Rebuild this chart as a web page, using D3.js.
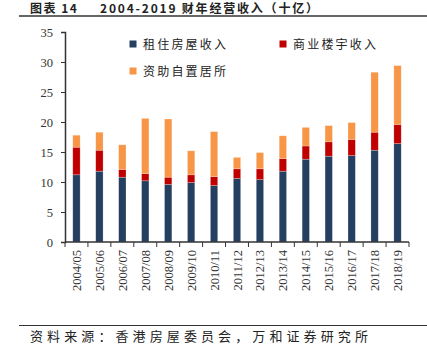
<!DOCTYPE html>
<html><head><meta charset="utf-8">
<script src="https://cdn.jsdelivr.net/npm/d3@7"></script>
<style>body{margin:0;background:#fff}svg{display:block}</style>
</head><body>
<script>
const categories = ["2004/05","2005/06","2006/07","2007/08","2008/09","2009/10","2010/11","2011/12","2012/13","2013/14","2014/15","2015/16","2016/17","2017/18","2018/19"];
const rental = [11.2,11.8,10.8,10.2,9.6,9.9,9.4,10.6,10.4,11.8,13.8,14.3,14.4,15.3,16.4];
const commercial = [4.6,3.5,1.3,1.2,1.2,1.3,1.5,1.6,1.8,2.1,2.2,2.4,2.7,3.0,3.2];
const homeOwnership = [2.0,3.0,4.1,9.2,9.7,4.0,7.5,1.9,2.7,3.8,3.1,2.7,2.8,10.0,9.8];
const seriesNames = ["租住房屋收入","商业楼宇收入","资助自置居所"];
const colors = ["#243F60","#C00000","#F79646"];
const yTicks = [0,5,10,15,20,25,30,35];

const W=427,H=360;
const svg=d3.select("body").append("svg").attr("width",W).attr("height",H);
const serif="'Liberation Serif','Times New Roman',Times,serif";
const cjk="'Noto Sans CJK SC',sans-serif";

svg.append("text").attr("x",30).attr("y",12.5).attr("font-family",cjk).attr("font-weight","bold")
  .attr("font-size",12).attr("fill","#222").attr("letter-spacing",1.5).text("图表 14");
svg.append("text").attr("x",100).attr("y",12.5).attr("font-family",cjk).attr("font-weight","bold")
  .attr("font-size",12).attr("fill","#222").attr("letter-spacing",1.8).text("2004-2019 财年经营收入（十亿）");
svg.append("line").attr("x1",19).attr("x2",427).attr("y1",16).attr("y2",16).attr("stroke","#333").attr("stroke-width",1.5);

const x=d3.scaleBand().domain(categories).range([65,409]).paddingInner(0.68).paddingOuter(0.34);
const y=d3.scaleLinear().domain([0,35]).range([242,32]);

const data=categories.map((c,i)=>({cat:c,s0:rental[i],s1:commercial[i],s2:homeOwnership[i]}));
const stack=d3.stack().keys(["s0","s1","s2"])(data);

svg.append("g").selectAll("g").data(stack).join("g").attr("fill",(d,i)=>colors[i])
 .selectAll("rect").data(d=>d).join("rect")
 .attr("x",d=>x(d.data.cat)).attr("width",x.bandwidth())
 .attr("y",d=>y(d[1])).attr("height",d=>y(d[0])-y(d[1]))
 .attr("stroke","#fff").attr("stroke-opacity",0.4).attr("stroke-width",0.6);

const ya=svg.append("g").attr("transform","translate(65,0)")
 .call(d3.axisLeft(y).tickValues(yTicks).tickSize(4).tickPadding(8));
ya.attr("font-family",serif);
ya.select(".domain").attr("stroke","#333").attr("stroke-width",1.5);
ya.selectAll(".tick line").attr("stroke","#333");
ya.selectAll("text").attr("font-family",serif).attr("font-size",12.5).attr("fill","#333");

// x axis
const xg=svg.append("g");
xg.append("line").attr("x1",65).attr("x2",409).attr("y1",242).attr("y2",242).attr("stroke","#333").attr("stroke-width",1.5);
const step=x.step();
const bounds=d3.range(categories.length+1).map(i=>65+i*step);
xg.selectAll("line.t").data(bounds).join("line").attr("class","t")
 .attr("x1",d=>d).attr("x2",d=>d).attr("y1",242).attr("y2",247).attr("stroke","#333");
xg.selectAll("text").data(categories).join("text")
 .attr("transform",d=>`translate(${x(d)+x.bandwidth()/2+4.5},250) rotate(-90)`)
 .attr("text-anchor","end").attr("font-family",serif).attr("font-size",12.5).attr("fill","#333").text(d=>d);

// legend
const leg=[{x:133,y:44},{x:283,y:44},{x:133,y:71}];
leg.forEach((p,i)=>{
  svg.append("rect").attr("x",p.x-3.5).attr("y",p.y-3.5).attr("width",7).attr("height",7).attr("fill",colors[i]);
  svg.append("text").attr("x",p.x+10).attr("y",p.y+4.5).attr("font-family",cjk).attr("font-size",12).attr("letter-spacing",2.2).attr("fill","#222").text(seriesNames[i]);
});

svg.append("line").attr("x1",19).attr("x2",427).attr("y1",325.5).attr("y2",325.5).attr("stroke","#333").attr("stroke-width",1);
svg.append("text").attr("x",30).attr("y",341).attr("font-family",cjk).attr("font-size",13).attr("letter-spacing",4.1).attr("fill","#222").text("资料来源：香港房屋委员会，万和证券研究所");
</script>
</body></html>
